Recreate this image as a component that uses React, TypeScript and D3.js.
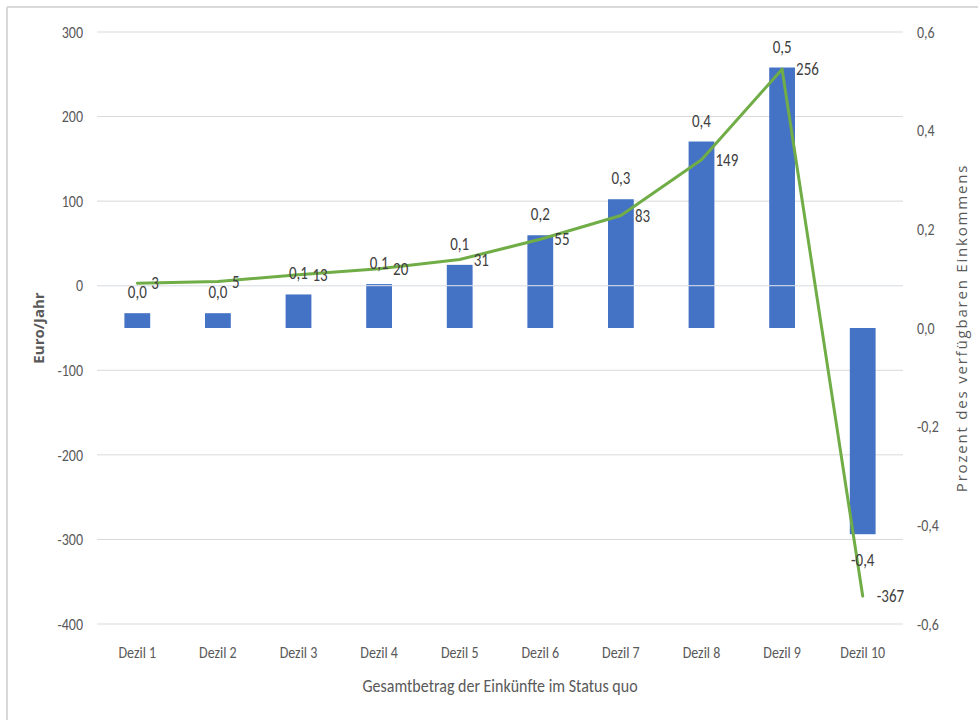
import React from "react";
import * as d3 from "d3";

const categories = ["Dezil 1","Dezil 2","Dezil 3","Dezil 4","Dezil 5","Dezil 6","Dezil 7","Dezil 8","Dezil 9","Dezil 10"];
const percentValues = [0.03, 0.03, 0.068, 0.089, 0.128, 0.188, 0.261, 0.378, 0.528, -0.418];
const euroValues = [3, 5, 13, 20, 31, 55, 83, 149, 256, -367];
const leftTicks = [-400, -300, -200, -100, 0, 100, 200, 300];
const rightTicks = [-0.6, -0.4, -0.2, 0, 0.2, 0.4, 0.6];

const W = 978, H = 720;
const plotLeft = 97, plotRight = 903, plotTop = 32, plotBottom = 624;
const FONT = "Carlito, Lato, 'Liberation Sans', sans-serif";
const TXT = "#595959";
const STRETCH = 1.18;

const fmtPct = (v: number) => d3.format(".1f")(v).replace(".", ",").replace("−", "-");

function T(props: { x: number; y: number; anchor: string; size: number; fill: string; children: any; middle?: boolean }) {
  return (
    <g transform={`translate(${props.x},${props.y}) scale(1,${STRETCH})`}>
      <text x={0} y={0} dy={props.middle ? "0.35em" : undefined} textAnchor={props.anchor} fontSize={props.size} fill={props.fill}>{props.children}</text>
    </g>
  );
}

export default function App() {
  const x = d3.scaleBand<string>().domain(categories).range([plotLeft, plotRight]);
  const yL = d3.scaleLinear().domain([-400, 300]).range([plotBottom, plotTop]);
  const yR = d3.scaleLinear().domain([-0.6, 0.6]).range([plotBottom, plotTop]);
  const bw = x.bandwidth() * 0.32;
  const cx = (c: string) => (x(c) as number) + x.bandwidth() / 2;
  const line = d3.line<number>().x((_, i) => cx(categories[i])).y(d => yL(d));

  return (
    <svg width={W} height={H} style={{ position: "absolute", left: 0, top: 0, background: "#fff" }} fontFamily={FONT}>
      <rect x={0} y={0} width={W} height={H} fill="#fff" />
      <line x1={7} x2={W} y1={7} y2={7} stroke="#d9d9d9" strokeWidth={2} />
      <line x1={7} x2={7} y1={7} y2={H} stroke="#d9d9d9" strokeWidth={2} />
      {leftTicks.map(t => (
        <g key={"gl" + t}>
          <line x1={plotLeft} x2={plotRight} y1={yL(t)} y2={yL(t)} stroke="#d9d9d9" strokeWidth={1} />
          <T x={83} y={yL(t)} anchor="end" size={14} fill={TXT} middle>{t}</T>
        </g>
      ))}
      {rightTicks.map(t => (
        <T key={"r" + t} x={917} y={yR(t)} anchor="start" size={14} fill={TXT} middle>{fmtPct(t)}</T>
      ))}
      {categories.map((c, i) => {
        const v = percentValues[i];
        const y0 = yR(0), y1 = yR(v);
        return (
          <rect key={"b" + c} x={cx(c) - bw / 2} y={Math.min(y0, y1)} width={bw} height={Math.abs(y1 - y0)} fill="#4472C4" />
        );
      })}
      <line x1={plotLeft} x2={plotRight} y1={yL(0)} y2={yL(0)} stroke="#e3e6ec" strokeWidth={1} />
      <path d={line(euroValues) || ""} fill="none" stroke="#70AD47" strokeWidth={3} strokeLinejoin="round" strokeLinecap="round" />
      {categories.map((c, i) => {
        const v = percentValues[i];
        const y = v >= 0 ? yR(v) - 15 : yR(v) + 32;
        return (
          <T key={"bl" + c} x={cx(c)} y={y} anchor="middle" size={15} fill="#404040">{fmtPct(v)}</T>
        );
      })}
      {categories.map((c, i) => (
        <T key={"ll" + c} x={cx(c) + 14} y={yL(euroValues[i])} anchor="start" size={15} fill="#404040" middle>{euroValues[i]}</T>
      ))}
      {categories.map(c => (
        <T key={"xl" + c} x={cx(c)} y={652} anchor="middle" size={14} fill={TXT} middle>{c}</T>
      ))}
      <T x={500} y={685} anchor="middle" size={16} fill={TXT} middle>Gesamtbetrag der Einkünfte im Status quo</T>
      <text transform={`translate(39,${(plotTop + plotBottom) / 2}) rotate(-90)`} textAnchor="middle" dy="0.35em" fontSize={15} fontWeight="bold" fill={TXT} fontFamily="'Open Sans', sans-serif">Euro/Jahr</text>
      <text transform={`translate(962,${(plotTop + plotBottom) / 2}) rotate(-90)`} textAnchor="middle" dy="0.35em" fontSize={15} fill={TXT} letterSpacing={1.8} fontFamily="'Open Sans', sans-serif">Prozent des verfügbaren Einkommens</text>
    </svg>
  );
}
